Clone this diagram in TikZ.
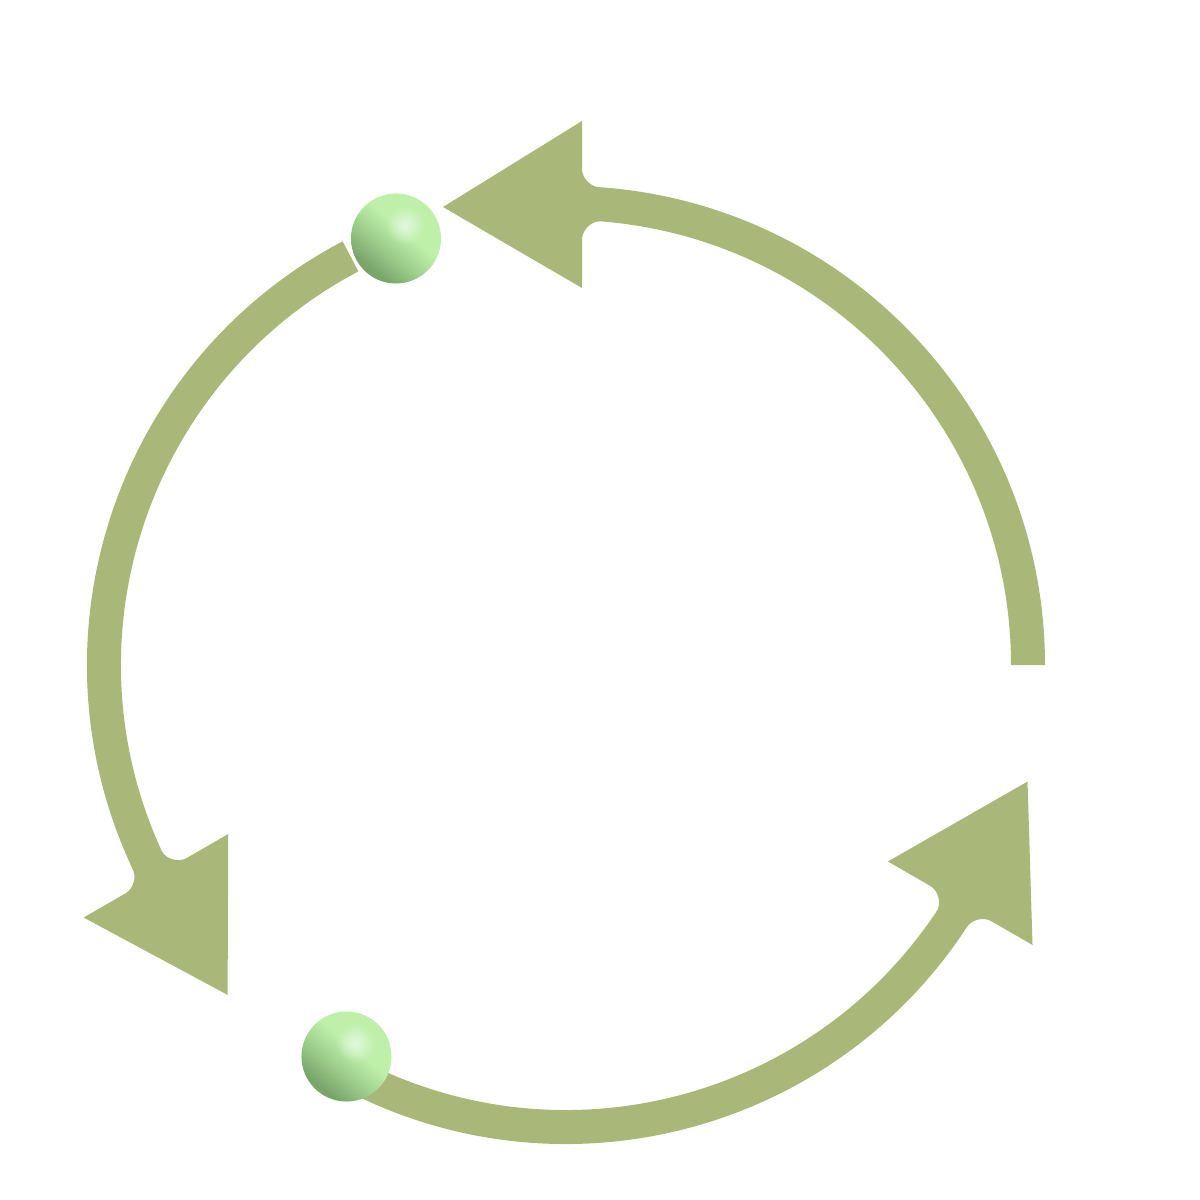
\documentclass[tikz,border=0pt]{standalone}
\usepackage{tikz}
\usetikzlibrary{calc,positioning,fadings}
\definecolor{cyclegreen}{RGB}{169,184,121}
\definecolor{ballhi}{RGB}{225,249,218}
\definecolor{balllight}{RGB}{190,240,170}
\definecolor{ballmid}{RGB}{158,206,140}
\definecolor{balldark}{RGB}{121,165,107}
\pgfdeclareverticalshading{ballside}{100bp}{color(0bp)=(balldark); color(28bp)=(balldark); color(42bp)=(ballmid); color(56bp)=(balllight); color(100bp)=(balllight)}
\tikzfading[name=glintfade, inner color=transparent!0, outer color=transparent!100]

\begin{document}
\begin{tikzpicture}[x=0.01cm,y=0.01cm,
  cyclearrow/.style={fill=cyclegreen},
  ball/.style={circle, minimum size=0.9cm, inner sep=0pt, shading=ballside, shading angle=-40},
  glint/.style={circle, minimum size=0.4cm, inner sep=0pt, fill=ballhi, path fading=glintfade}]
\useasboundingbox (-566,-535) rectangle (634,665);

\foreach \turn/\from/\base in {0/0/16,120/-2.2/22.5,240/3/9.2}{
  \pgfmathsetmacro\outerend{acos((\base+18)/479)}
  \pgfmathsetmacro\innerend{acos((\base+18)/445)}
  \pgfmathsetmacro\outery{479*sin(\outerend)}
  \pgfmathsetmacro\innery{445*sin(\innerend)}
  \fill[cyclearrow,rotate=\turn] (\from:479) arc[start angle=\from,end angle=\outerend,radius=479]
    .. controls ({\base+8},\outery) and (\base,{\outery+10}) .. (\base,{\outery+18})
    -- (\base,544) -- ({\base-139},458) -- (\base,377) -- (\base,{\innery-18})
    .. controls (\base,{\innery-10}) and ({\base+8},\innery) .. ({\base+18},\innery)
    arc[start angle=\innerend,end angle=\from,radius=445] -- cycle;
}

\node[ball] (topball) at (-170,426.5) {};
\node[glint] (topglint) at ($(topball)+(9,13.5)$) {};
\node[ball] (bottomball) at (-219.5,-391.5) {};
\node[glint] (bottomglint) at ($(bottomball)+(9,13.5)$) {};
\end{tikzpicture}
\end{document}
